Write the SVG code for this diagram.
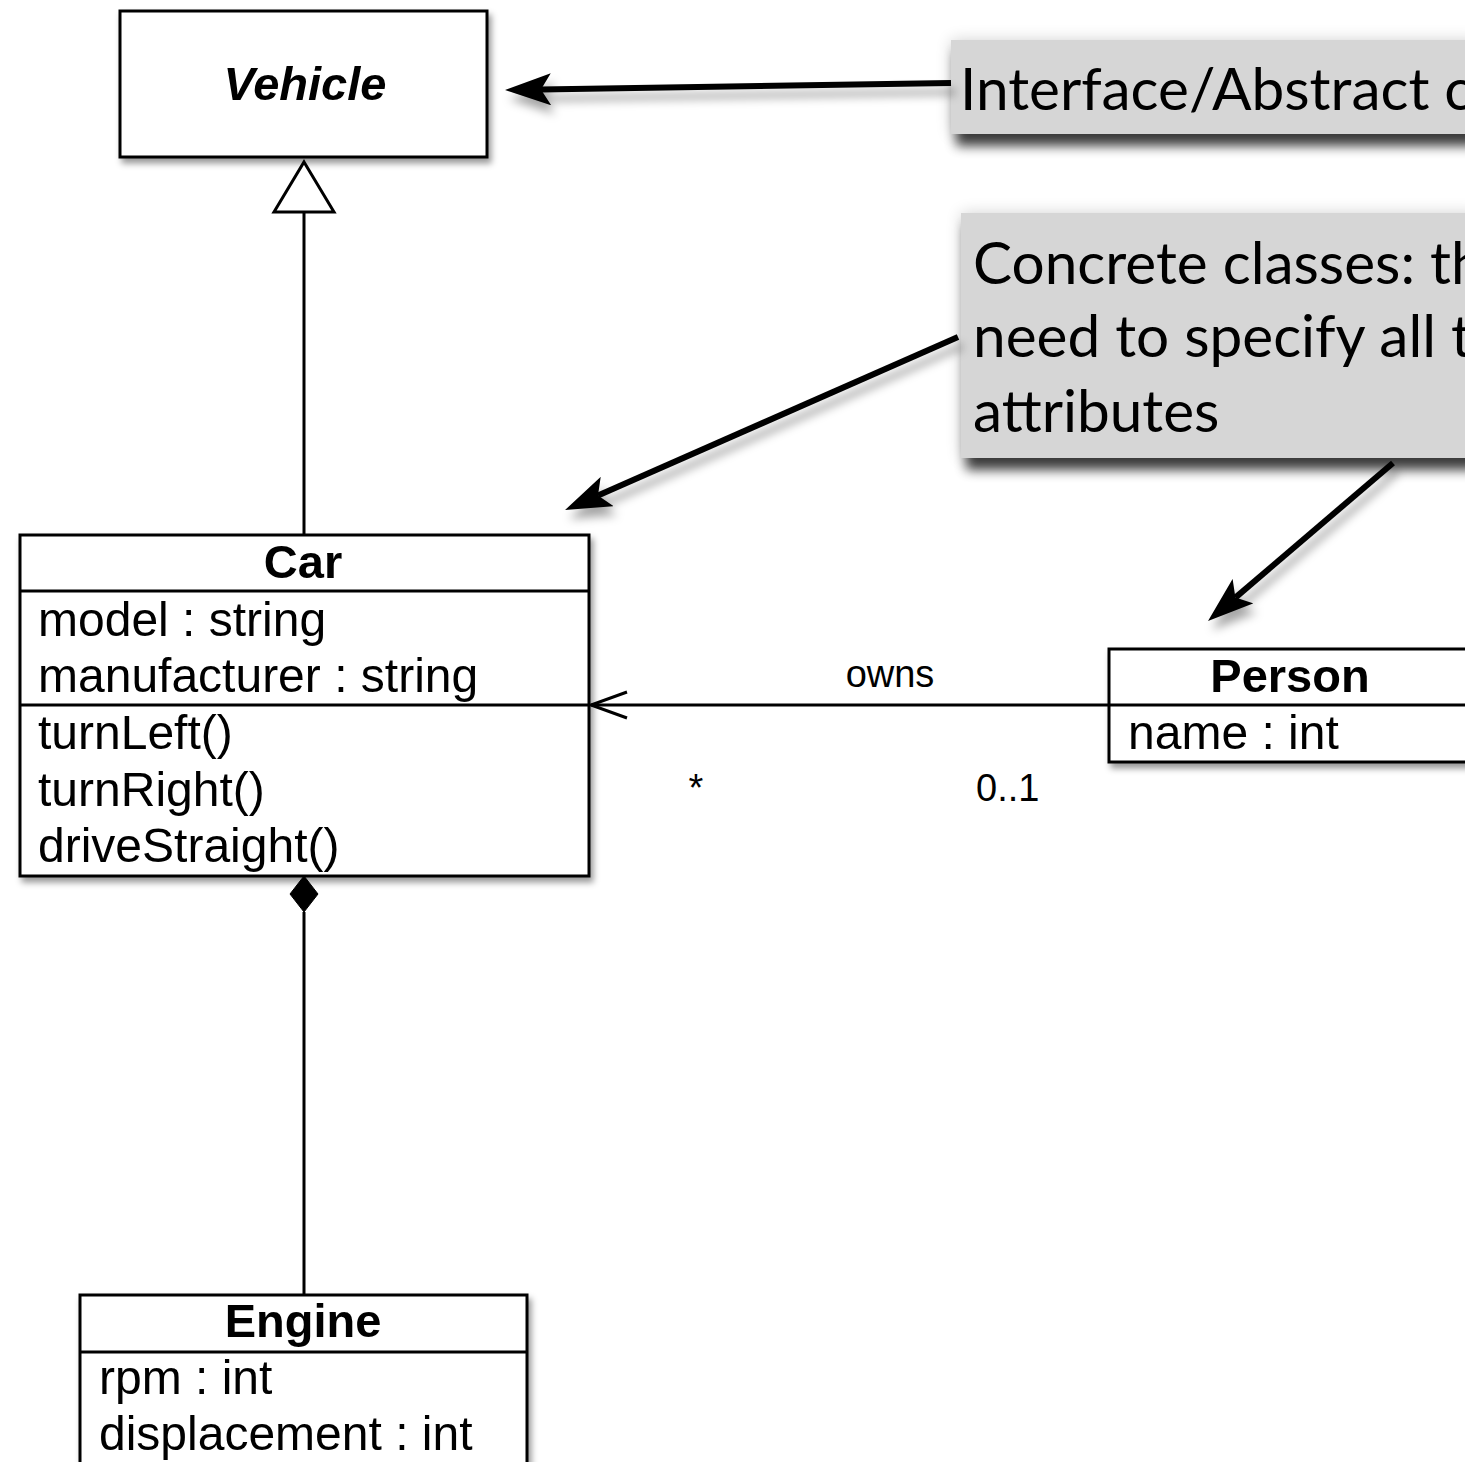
<svg xmlns="http://www.w3.org/2000/svg" width="1465" height="1462" viewBox="0 0 1465 1462">
  <defs>
    <style>
      .box { fill: #ffffff; stroke: #000000; stroke-width: 3; }
      .div { stroke: #000000; stroke-width: 3; }
      .title { font-family: "Liberation Sans", Arial, sans-serif; font-weight: bold; font-size: 47px; fill: #000; text-anchor: middle; }
      .abstract { font-style: italic; }
      .member { font-family: "Liberation Sans", Arial, sans-serif; font-size: 48px; fill: #000; }
      .label { font-family: "Liberation Sans", Arial, sans-serif; font-size: 38px; fill: #000; }
      .note { fill: #d6d6d6; }
      .noteText { font-family: Lato, "Open Sans", sans-serif; font-size: 58.5px; fill: #000; }
      .edge { fill: none; stroke: #000; stroke-width: 3; }
      .pointer { fill: none; stroke: #000; stroke-width: 6; marker-end: url(#pointerHead); }
    </style>
    <filter id="boxShadow" x="-10%" y="-10%" width="130%" height="140%">
      <feDropShadow dx="3" dy="5" stdDeviation="3" flood-color="#000" flood-opacity="0.4"/>
    </filter>
    <filter id="noteShadow" x="-10%" y="-20%" width="130%" height="160%">
      <feGaussianBlur in="SourceAlpha" stdDeviation="6" result="b1"/>
      <feOffset in="b1" dx="5" dy="12" result="o1"/>
      <feComponentTransfer in="o1" result="s1"><feFuncA type="linear" slope="0.75"/></feComponentTransfer>
      <feGaussianBlur in="SourceAlpha" stdDeviation="8" result="b2"/>
      <feComponentTransfer in="b2" result="s2"><feFuncA type="linear" slope="0.18"/></feComponentTransfer>
      <feMerge><feMergeNode in="s2"/><feMergeNode in="s1"/><feMergeNode in="SourceGraphic"/></feMerge>
    </filter>
    <filter id="pointerShadow" x="-20%" y="-40%" width="140%" height="180%">
      <feDropShadow dx="4" dy="9" stdDeviation="5" flood-color="#000" flood-opacity="0.35"/>
    </filter>
    <marker id="pointerHead" viewBox="0 0 46 32" refX="10" refY="16" markerWidth="46" markerHeight="32" markerUnits="userSpaceOnUse" orient="auto">
      <path d="M46,16 L0,0 L10,16 L0,32 Z" fill="#000"/>
    </marker>
  </defs>

  <!-- callout notes -->
  <g id="note-interface" filter="url(#noteShadow)">
    <rect class="note" x="951" y="40" width="530" height="94"/>
    <text class="noteText" x="960" y="110">Interface/Abstract c</text>
  </g>
  <g id="note-concrete" filter="url(#noteShadow)">
    <rect class="note" x="961" y="213" width="520" height="245"/>
    <text class="noteText" x="973" y="284">Concrete classes: th</text>
    <text class="noteText" x="973" y="357">need to specify all t</text>
    <text class="noteText" x="973" y="432">attributes</text>
  </g>

  <!-- classes -->
  <g id="class-vehicle" filter="url(#boxShadow)">
    <rect class="box" x="120" y="11" width="367" height="146"/>
    <text class="title abstract" x="305" y="100">Vehicle</text>
  </g>

  <g id="class-car" filter="url(#boxShadow)">
    <rect class="box" x="20" y="535" width="569" height="341"/>
    <line class="div" x1="20" y1="591" x2="589" y2="591"/>
    <line class="div" x1="20" y1="705" x2="589" y2="705"/>
    <text class="title" x="303" y="578">Car</text>
    <text class="member" x="38" y="636">model : string</text>
    <text class="member" x="38" y="692">manufacturer : string</text>
    <text class="member" x="38" y="749">turnLeft()</text>
    <text class="member" x="38" y="806">turnRight()</text>
    <text class="member" x="38" y="862">driveStraight()</text>
  </g>

  <g id="class-person" filter="url(#boxShadow)">
    <rect class="box" x="1109" y="649" width="370" height="113"/>
    <line class="div" x1="1109" y1="705" x2="1479" y2="705"/>
    <text class="title" x="1290" y="692">Person</text>
    <text class="member" x="1128" y="749">name : int</text>
  </g>

  <g id="class-engine" filter="url(#boxShadow)">
    <rect class="box" x="80" y="1295" width="447" height="190"/>
    <line class="div" x1="80" y1="1352" x2="527" y2="1352"/>
    <text class="title" x="303" y="1337">Engine</text>
    <text class="member" x="99" y="1394">rpm : int</text>
    <text class="member" x="99" y="1450">displacement : int</text>
  </g>

  <!-- connectors -->
  <g id="connectors">
    <!-- generalization Car -> Vehicle -->
    <line class="edge" x1="304" y1="212" x2="304" y2="535"/>
    <polygon points="304,162 334,212 274,212" fill="#fff" stroke="#000" stroke-width="3" stroke-linejoin="miter"/>

    <!-- association Person -> Car (owns) -->
    <line class="edge" x1="591" y1="705" x2="1109" y2="705"/>
    <polyline class="edge" points="627,692 591,705 627,718"/>
    <text class="label" x="890" y="687" text-anchor="middle">owns</text>
    <text class="label" x="696" y="801" text-anchor="middle">*</text>
    <text class="label" x="976" y="801">0..1</text>

    <!-- composition Car <>- Engine -->
    <line class="edge" x1="304" y1="912" x2="304" y2="1295"/>
    <polygon points="304,876 318,894 304,912 290,894" fill="#000" stroke="#000" stroke-width="1"/>

    <!-- note pointers -->
    <g filter="url(#pointerShadow)">
      <line class="pointer" x1="951" y1="83" x2="541" y2="89.5"/>
      <line class="pointer" x1="958" y1="337" x2="598" y2="495.5"/>
      <line class="pointer" x1="1393" y1="463" x2="1235.4" y2="597.6"/>
    </g>
  </g>
</svg>
